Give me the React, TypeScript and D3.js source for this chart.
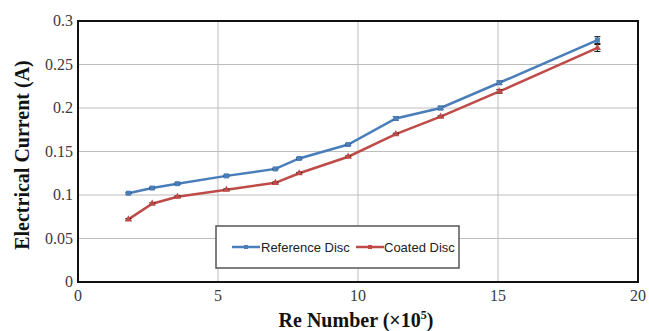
import { useEffect, useRef } from 'react';
import * as d3 from 'd3';

const reNumbers = [1.8, 2.65, 3.55, 5.3, 7.05, 7.9, 9.65, 11.35, 12.95, 15.05, 18.55];
const referenceDisc = [0.102, 0.108, 0.113, 0.122, 0.13, 0.142, 0.158, 0.188, 0.2, 0.229, 0.278];
const coatedDisc = [0.072, 0.09, 0.098, 0.106, 0.114, 0.125, 0.144, 0.17, 0.19, 0.219, 0.269];
const referenceErr = [0.001, 0.001, 0.001, 0.001, 0.001, 0.001, 0.001, 0.002, 0.002, 0.002, 0.004];
const coatedErr = [0.001, 0.001, 0.001, 0.001, 0.001, 0.001, 0.001, 0.001, 0.001, 0.002, 0.004];
const xTicks = [0, 5, 10, 15, 20];
const yTicks = [0, 0.05, 0.1, 0.15, 0.2, 0.25, 0.3];
const seriesNames = ['Reference Disc', 'Coated Disc'];

export default function App() {
    const ref = useRef<SVGSVGElement>(null);

    useEffect(() => {
        if (!ref.current) return;
        const svg = d3.select(ref.current);
        svg.selectAll('*').remove();

        const margin = { top: 21, right: 11, bottom: 49, left: 78 };
        const width = 649 - margin.left - margin.right;
        const height = 331 - margin.top - margin.bottom;

        const g = svg.append('g').attr('transform', `translate(${margin.left},${margin.top})`);

        const x = d3.scaleLinear().domain([0, 20]).range([0, width]);
        const y = d3.scaleLinear().domain([0, 0.3]).range([height, 0]);

        // grid
        g.selectAll('.vgrid')
            .data(xTicks.slice(1, -1))
            .enter()
            .append('line')
            .attr('x1', d => x(d))
            .attr('x2', d => x(d))
            .attr('y1', 0)
            .attr('y2', height)
            .attr('stroke', '#bdbdbd')
            .attr('stroke-width', 1);
        g.selectAll('.hgrid')
            .data(yTicks.slice(1, -1))
            .enter()
            .append('line')
            .attr('x1', 0)
            .attr('x2', width)
            .attr('y1', d => y(d))
            .attr('y2', d => y(d))
            .attr('stroke', '#bdbdbd')
            .attr('stroke-width', 1);

        // frame
        g.append('rect')
            .attr('width', width)
            .attr('height', height)
            .attr('fill', 'none')
            .attr('stroke', '#111')
            .attr('stroke-width', 2);

        // tick labels
        g.selectAll('.ylab')
            .data(yTicks)
            .enter()
            .append('text')
            .attr('x', -5)
            .attr('y', d => y(d))
            .attr('dy', '0.32em')
            .attr('text-anchor', 'end')
            .attr('font-family', '"Liberation Serif", serif')
            .attr('font-size', '16px')
            .attr('fill', '#3a3a3a')
            .text(d => String(d));
        g.selectAll('.xlab')
            .data(xTicks)
            .enter()
            .append('text')
            .attr('x', d => x(d))
            .attr('y', height + 19)
            .attr('text-anchor', 'middle')
            .attr('font-family', '"Liberation Serif", serif')
            .attr('font-size', '16px')
            .attr('fill', '#3a3a3a')
            .text(d => String(d));

        // axis titles
        const xt = svg.append('text')
            .attr('x', 356)
            .attr('y', 327)
            .attr('text-anchor', 'middle')
            .attr('font-family', '"Liberation Serif", serif')
            .attr('font-size', '20px')
            .attr('font-weight', 'bold')
            .attr('fill', '#111');
        xt.append('tspan').text('Re Number (×10');
        xt.append('tspan').attr('font-size', '12px').attr('dy', '-8').text('5');
        xt.append('tspan').attr('dy', '8').text(')');

        svg.append('text')
            .attr('transform', 'translate(29,155) rotate(-90)')
            .attr('text-anchor', 'middle')
            .attr('font-family', '"Liberation Serif", serif')
            .attr('font-size', '20px')
            .attr('font-weight', 'bold')
            .attr('fill', '#111')
            .text('Electrical Current (A)');

        const series = [
            { name: seriesNames[0], values: referenceDisc, err: referenceErr, color: '#4a7ebb' },
            { name: seriesNames[1], values: coatedDisc, err: coatedErr, color: '#be4b48' },
        ];

        const line = d3.line<number>()
            .x((_, i) => x(reNumbers[i]))
            .y(d => y(d));

        series.forEach((s, si) => {
            g.append('path')
                .datum(s.values)
                .attr('fill', 'none')
                .attr('stroke', s.color)
                .attr('stroke-width', 2.5)
                .attr('d', line);

            // error bars
            s.values.forEach((v, i) => {
                const cx = x(reNumbers[i]);
                const e = s.err[i];
                g.append('line')
                    .attr('x1', cx).attr('x2', cx)
                    .attr('y1', y(v - e)).attr('y2', y(v + e))
                    .attr('stroke', '#111').attr('stroke-width', 1);
                [v - e, v + e].forEach(t => {
                    g.append('line')
                        .attr('x1', cx - 3).attr('x2', cx + 3)
                        .attr('y1', y(t)).attr('y2', y(t))
                        .attr('stroke', '#111').attr('stroke-width', 1);
                });
            });

            // markers
            if (si === 0) {
                g.selectAll(`.m${si}`)
                    .data(s.values)
                    .enter()
                    .append('rect')
                    .attr('x', (_, i) => x(reNumbers[i]) - 2.5)
                    .attr('y', d => y(d) - 2.5)
                    .attr('width', 5)
                    .attr('height', 5)
                    .attr('fill', s.color);
            } else {
                g.selectAll(`.m${si}`)
                    .data(s.values)
                    .enter()
                    .append('path')
                    .attr('d', d3.symbol(d3.symbolTriangle, 22)())
                    .attr('transform', (d, i) => `translate(${x(reNumbers[i])},${y(d)})`)
                    .attr('fill', s.color);
            }
        });

        // legend
        const lg = svg.append('g').attr('transform', 'translate(216,226)');
        lg.append('rect')
            .attr('width', 243)
            .attr('height', 42)
            .attr('fill', '#fff')
            .attr('stroke', '#555')
            .attr('stroke-width', 1.5);
        const items = [
            { sx: 16, tx: 45 },
            { sx: 140, tx: 168 },
        ];
        series.forEach((s, i) => {
            const it = items[i];
            lg.append('line')
                .attr('x1', it.sx).attr('x2', it.sx + 28)
                .attr('y1', 21).attr('y2', 21)
                .attr('stroke', s.color).attr('stroke-width', 2.5);
            lg.append('rect')
                .attr('x', it.sx + 12).attr('y', 19)
                .attr('width', 4).attr('height', 4)
                .attr('fill', s.color);
            lg.append('text')
                .attr('x', it.tx)
                .attr('y', 21)
                .attr('dy', '0.35em')
                .attr('font-family', '"Liberation Sans", Arial, sans-serif')
                .attr('font-size', '13px')
                .attr('fill', '#222')
                .text(s.name);
        });
    }, []);

    return (
        <div style={{ position: 'absolute', left: 0, top: 0 }}>
            <svg ref={ref} width={649} height={331} style={{ display: 'block', background: '#fff' }} />
        </div>
    );
}
